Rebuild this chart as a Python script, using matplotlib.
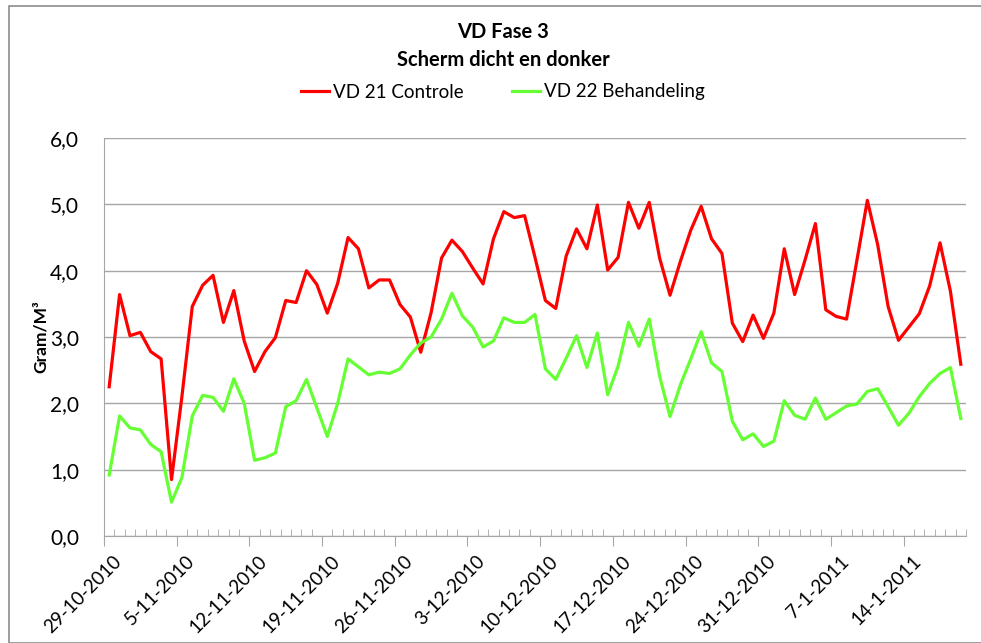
import matplotlib
matplotlib.use("Agg")
import matplotlib.pyplot as plt
import matplotlib.transforms as mtransforms
from matplotlib.patches import Rectangle
from matplotlib.ticker import MultipleLocator, FixedLocator, FuncFormatter
import numpy as np

plt.rcParams["font.family"] = ["Lato", "DejaVu Sans"]

# dagelijkse waarden 29-10-2010 t/m 19-1-2011
controle = [2.25, 3.64, 3.02, 3.07, 2.78, 2.67, 0.85, 2.10, 3.46, 3.78,
            3.93, 3.22, 3.70, 2.94, 2.48, 2.78, 2.99, 3.55, 3.52, 4.00,
            3.79, 3.36, 3.81, 4.50, 4.33, 3.74, 3.86, 3.86, 3.49, 3.30,
            2.77, 3.37, 4.19, 4.46, 4.29, 4.04, 3.80, 4.48, 4.89, 4.80,
            4.83, 4.20, 3.55, 3.43, 4.22, 4.63, 4.33, 4.99, 4.01, 4.20,
            5.03, 4.64, 5.03, 4.19, 3.63, 4.14, 4.61, 4.97, 4.48, 4.26,
            3.21, 2.93, 3.33, 2.98, 3.36, 4.33, 3.64, 4.16, 4.71, 3.41,
            3.31, 3.27, 4.16, 5.06, 4.39, 3.46, 2.95, 3.15, 3.35, 3.77,
            4.42, 3.69, 2.59]
behandeling = [0.92, 1.81, 1.63, 1.60, 1.38, 1.27, 0.51, 0.88, 1.81, 2.12,
               2.09, 1.88, 2.37, 2.00, 1.14, 1.18, 1.25, 1.95, 2.04, 2.36,
               1.93, 1.50, 2.00, 2.67, 2.55, 2.43, 2.47, 2.45, 2.52, 2.73,
               2.91, 3.00, 3.27, 3.66, 3.32, 3.15, 2.85, 2.94, 3.29, 3.22,
               3.22, 3.34, 2.52, 2.36, 2.68, 3.02, 2.54, 3.06, 2.13, 2.56,
               3.22, 2.86, 3.27, 2.41, 1.80, 2.28, 2.67, 3.08, 2.61, 2.48,
               1.73, 1.45, 1.54, 1.35, 1.43, 2.04, 1.82, 1.76, 2.08, 1.76,
               1.86, 1.96, 1.99, 2.18, 2.22, 1.95, 1.67, 1.85, 2.10, 2.30,
               2.45, 2.54, 1.77]
datum_labels = ["29-10-2010", "5-11-2010", "12-11-2010", "19-11-2010",
                "26-11-2010", "3-12-2010", "10-12-2010", "17-12-2010",
                "24-12-2010", "31-12-2010", "7-1-2011", "14-1-2011"]

W, H = 981, 643
fig = plt.figure(figsize=(W / 100, H / 100), dpi=100)
fig.patches.append(Rectangle((9 / W, 0), 1, 1 - 6 / H, transform=fig.transFigure,
                             fill=False, edgecolor="#8c8c8c", linewidth=1.2))

ax = fig.add_axes([104 / W, (H - 536) / H, (966 - 104) / W, (536 - 138) / H])
n = len(controle)
x = np.arange(n) + 0.5
ax.plot(x, controle, color="#ff0000", lw=2.3, label="VD 21 Controle")
ax.plot(x, behandeling, color="#66ff33", lw=2.3, label="VD 22 Behandeling")

ax.set_xlim(0, n)
ax.set_ylim(0, 6)
ax.yaxis.set_major_locator(MultipleLocator(1))
ax.yaxis.set_major_formatter(FuncFormatter(lambda v, p: f"{v:.1f}".replace(".", ",")))
ax.grid(axis="y", color="#a6a6a6", lw=1)
ax.set_axisbelow(True)

ax.xaxis.set_major_locator(FixedLocator([7 * k for k in range(len(datum_labels))]))
ax.set_xticklabels(datum_labels, rotation=45, ha="right", rotation_mode="anchor")
ax.xaxis.set_minor_locator(FixedLocator(np.arange(n + 1)))
ax.tick_params(axis="x", which="major", direction="out", length=7,
               color="#a6a6a6", labelsize=13.5, pad=5)
ax.tick_params(axis="x", which="minor", direction="in", length=5, color="#a6a6a6")
ax.tick_params(axis="y", length=0, labelsize=15, pad=18)
shift = mtransforms.ScaledTranslation(9 / 100, 0, fig.dpi_scale_trans)
for lab in ax.get_xticklabels():
    lab.set_transform(lab.get_transform() + shift)

for s in ["top", "right"]:
    ax.spines[s].set_visible(False)
for s in ["left", "bottom"]:
    ax.spines[s].set_color("#a6a6a6")

ax.set_ylabel("Gram/M³", fontsize=12.5, fontweight="bold", labelpad=1)

fig.text(503 / W, 1 - 32 / H, "VD Fase 3", ha="center", va="center",
         fontsize=14.5, fontweight="bold")
fig.text(503 / W, 1 - 60 / H, "Scherm dicht en donker", ha="center", va="center",
         fontsize=14.5, fontweight="bold")
fig.legend(loc="center", bbox_to_anchor=(503 / W, 1 - 92 / H), ncol=2,
           frameon=False, fontsize=13.5, handlelength=1.5, handletextpad=0.2,
           columnspacing=2.6)

fig.savefig("out.png", dpi=100)
